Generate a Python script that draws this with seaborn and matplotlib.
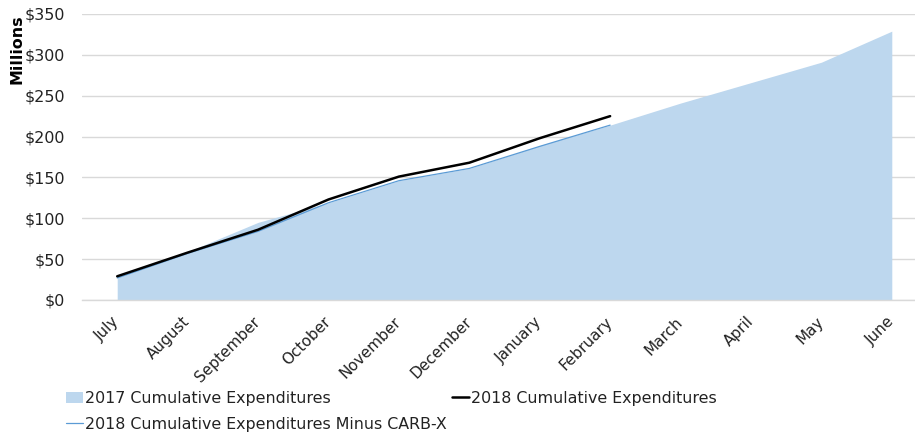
import matplotlib
matplotlib.use("Agg")
import matplotlib.pyplot as plt
import seaborn as sns
import pandas as pd
import numpy as np
from matplotlib.patches import Patch
from matplotlib.lines import Line2D

months = ["July", "August", "September", "October", "November", "December",
          "January", "February", "March", "April", "May", "June"]
cum_2017 = [28, 59, 95, 119, 146, 161, 189, 214, 241, 266, 291, 329]
cum_2018 = [29, 58, 86, 123, 151, 168, 198, 225]
cum_2018_minus_carbx = [27, 57, 84, 119, 146, 161, 188, 214]
yticks = [0, 50, 100, 150, 200, 250, 300, 350]

sns.set_theme(style="white")
plt.rcParams['font.family'] = ['DejaVu Sans']
FS = 11.4

fig = plt.figure(figsize=(9.15, 4.32), dpi=100)
ax = fig.add_axes([82/915, 132/432, (927-82)/915, (300-14)/432])

x17 = np.arange(len(cum_2017))
area_color = "#bdd7ee"
ax.fill_between(x17, cum_2017, 0, color=area_color, linewidth=0, zorder=2)

df18 = pd.DataFrame({"x": np.arange(len(cum_2018)), "y": cum_2018})
dfc = pd.DataFrame({"x": np.arange(len(cum_2018_minus_carbx)), "y": cum_2018_minus_carbx})
sns.lineplot(data=dfc, x="x", y="y", ax=ax, color="#5b9bd5", linewidth=0.9, zorder=3)
sns.lineplot(data=df18, x="x", y="y", ax=ax, color="black", linewidth=1.8, zorder=4)

ax.set_xlim(-0.5, 11.5)
ax.set_ylim(0, 350)
ax.set_yticks(yticks)
ax.set_yticklabels([f"${v}" for v in yticks], fontsize=FS, color="#222222")
ax.set_xticks(x17)
ax.set_xticklabels(months, rotation=45, ha="right", va="center", rotation_mode="anchor",
                   fontsize=FS - 0.4, color="#222222")
ax.tick_params(axis="both", length=0)
ax.tick_params(axis="y", pad=12)
ax.tick_params(axis="x", pad=14)
ax.grid(axis="y", color="#d9d9d9", linewidth=1, zorder=0)
ax.set_axisbelow(True)
for s in ["top", "right", "left"]:
    ax.spines[s].set_visible(False)
ax.spines["bottom"].set_color("#d9d9d9")
ax.spines["bottom"].set_linewidth(1)
ax.set_xlabel("")
ax.set_ylabel("Millions", fontsize=FS, fontweight="bold", color="black")
ax.yaxis.set_label_coords(-58/845, 0.876)

handles = [Patch(facecolor=area_color, edgecolor="none"),
           Line2D([0], [0], color="#5b9bd5", linewidth=0.9),
           Line2D([0], [0], color="black", linewidth=1.8)]
labels = ["2017 Cumulative Expenditures",
          "2018 Cumulative Expenditures Minus CARB-X",
          "2018 Cumulative Expenditures"]
fig.legend(handles, labels, loc="upper left", bbox_to_anchor=(66/915, 1 - 391/432),
           ncol=2, frameon=False, fontsize=FS, handlelength=1.08, handletextpad=0.13,
           columnspacing=0.3, labelspacing=0.68, borderaxespad=0, borderpad=0,
           labelcolor="#222222")

fig.savefig("out.png", dpi=100)
